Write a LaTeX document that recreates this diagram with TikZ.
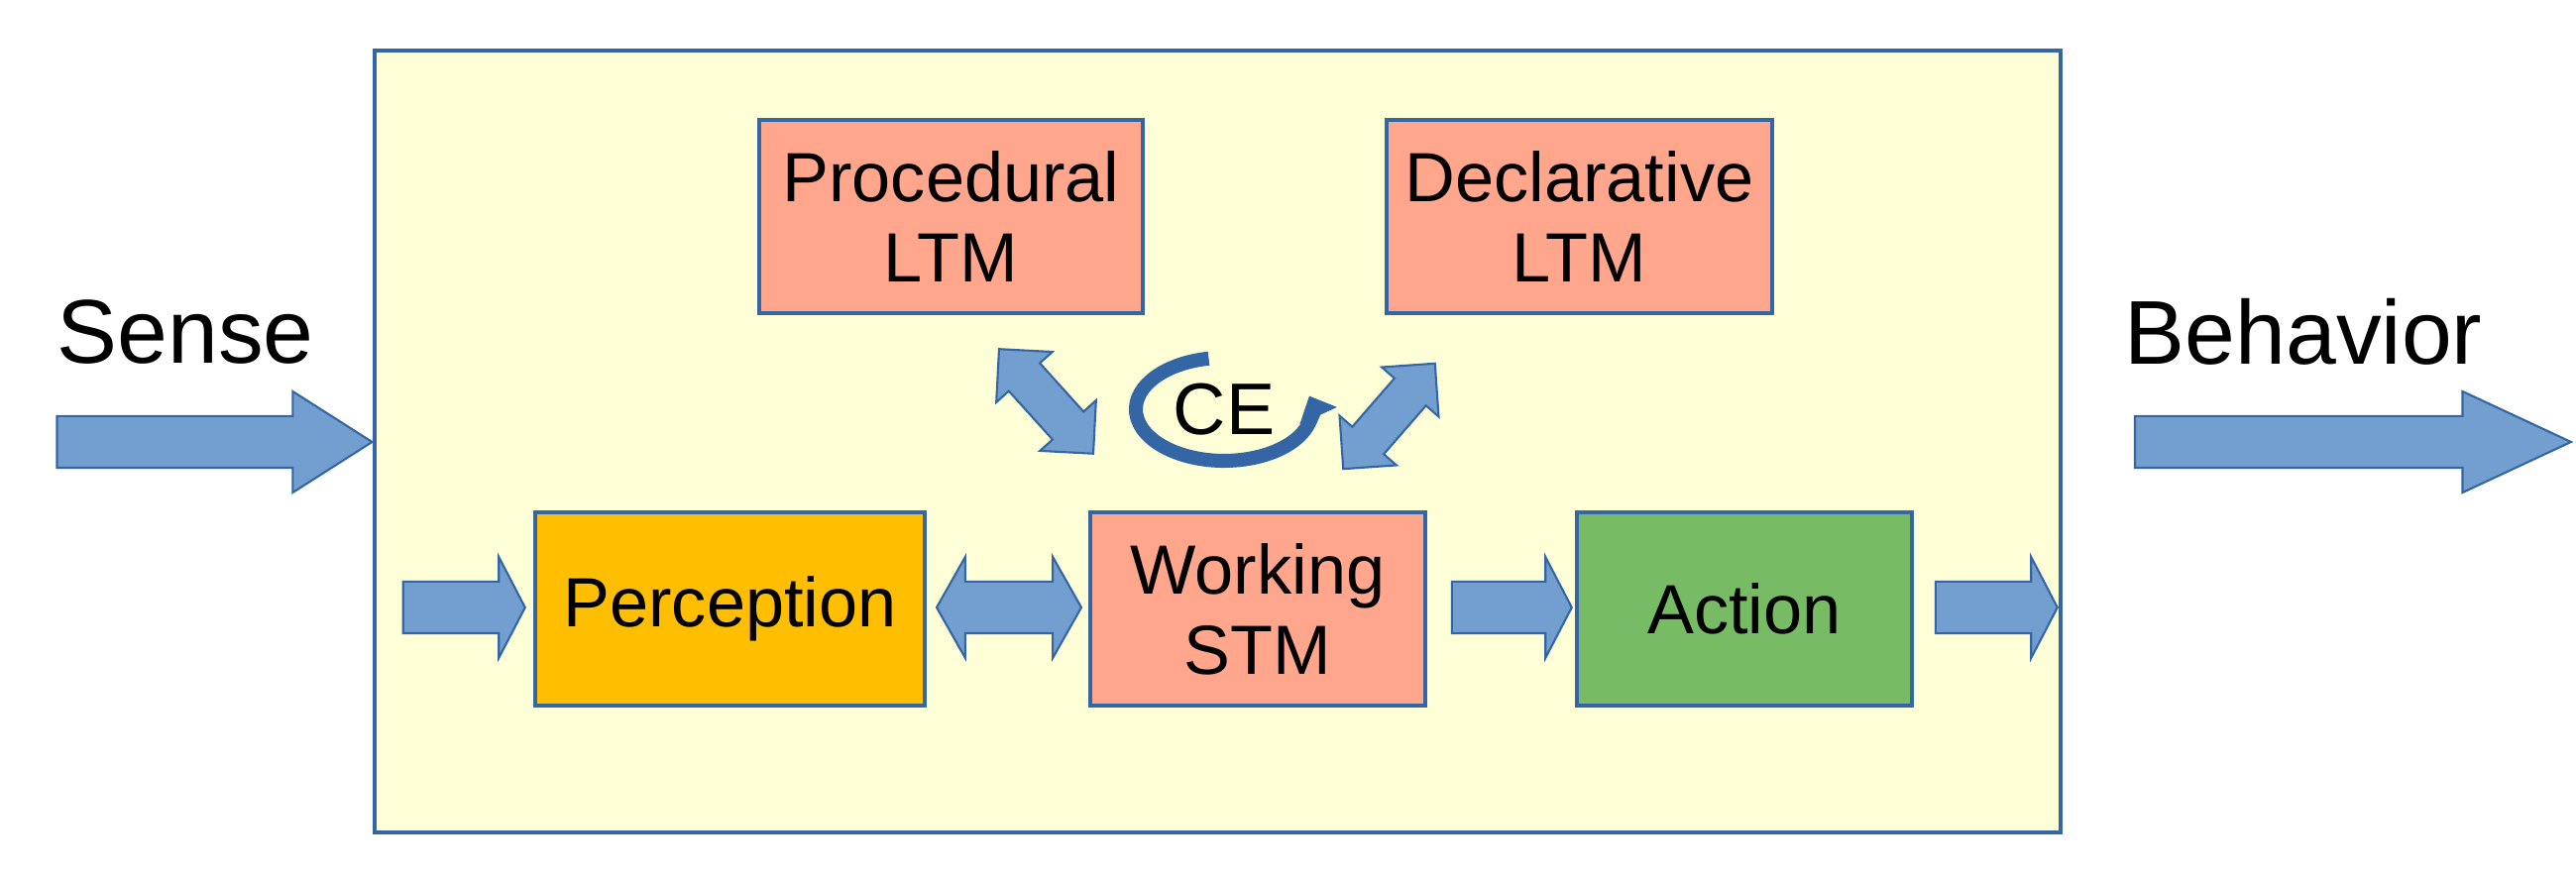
\documentclass[tikz,border=0pt]{standalone}
\usepackage{fontspec}
\setmainfont{Liberation Sans}
\usetikzlibrary{shapes.arrows,arrows.meta}

\definecolor{bgyellow}{RGB}{255,255,215}
\definecolor{edgeblue}{RGB}{52,101,164}
\definecolor{fatblue}{RGB}{114,159,207}
\definecolor{salmon}{RGB}{255,166,140}
\definecolor{amber}{RGB}{255,191,0}
\definecolor{leaf}{RGB}{119,188,101}

\tikzset{
  block/.style={draw=edgeblue, line width=1.2pt, minimum height=1.95cm, align=center, font=\fontsize{20}{23}\selectfont, inner sep=0pt},
  fat/.style={single arrow, draw=edgeblue, fill=fatblue, line width=0.6pt, inner sep=0.25cm, single arrow head extend=0.25cm, minimum width=1cm},
  fatboth/.style={double arrow, draw=edgeblue, fill=fatblue, line width=0.6pt, inner sep=0.2cm, double arrow head extend=0.17cm, minimum width=0.74cm},
  side/.style={font=\fontsize{26}{30}\selectfont}
}

\begin{document}
\begin{tikzpicture}
  \useasboundingbox (0,0) rectangle (25.99,8.87);
  \node[draw=edgeblue, line width=1pt, fill=bgyellow, minimum width=17.01cm, minimum height=7.89cm] (frame) at (12.285,4.415) {};

  \node[block, fill=salmon, minimum width=3.87cm] (proc) at (9.595,6.685) {Procedural\\LTM};
  \node[block, fill=salmon, minimum width=3.89cm] (decl) at (15.935,6.685) {Declarative\\LTM};
  \node[block, fill=amber, minimum width=3.93cm] (perc) at (7.365,2.725) {Perception};
  \node[block, fill=salmon, minimum width=3.38cm] (work) at (12.69,2.725) {Working\\STM};
  \node[block, fill=leaf, minimum width=3.38cm] (act) at (17.6,2.725) {Action};

  \node[side] (sense) at (1.87,5.52) {Sense};
  \node[side] (behav) at (23.24,5.52) {Behavior};

  % big in/out arrows
  \node[fat, minimum height=3.18cm, single arrow tip angle=65] (sarr) at (1.96,4.41) {};
  \node[fat, minimum height=4.40cm, single arrow tip angle=50] (barr) at (23.46,4.41) {};

  % flow along the bottom row
  \node[fat, minimum height=1.23cm, single arrow tip angle=125] (inarr) at (4.615,2.74) {};
  \node[double arrow, draw=edgeblue, fill=fatblue, line width=0.6pt, inner sep=0.25cm, double arrow head extend=0.25cm, minimum width=1cm, minimum height=1.46cm, double arrow tip angle=121] (pwarr) at (10.18,2.74) {};
  \node[fat, minimum height=1.21cm, single arrow tip angle=125] (waarr) at (15.185,2.74) {};
  \node[fat, minimum height=1.23cm, single arrow tip angle=125] (outarr) at (20.075,2.74) {};

  % memory links
  \node[fatboth, minimum height=1.42cm, rotate=-48] (plink) at (10.555,4.82) {};
  \node[fatboth, minimum height=1.41cm, rotate=49] (dlink) at (14.015,4.67) {};

  % central executive
  \node[font=\fontsize{21}{24}\selectfont] (ce) at (12.35,4.74) {CE};
  \draw[edgeblue, line width=4pt, -{Triangle[length=0.22cm,width=0.4cm]}]
    ([shift={(100:0.89cm and 0.52cm)}]ce.center) arc[start angle=100, end angle=375, x radius=0.89cm, y radius=0.52cm];
\end{tikzpicture}
\end{document}
